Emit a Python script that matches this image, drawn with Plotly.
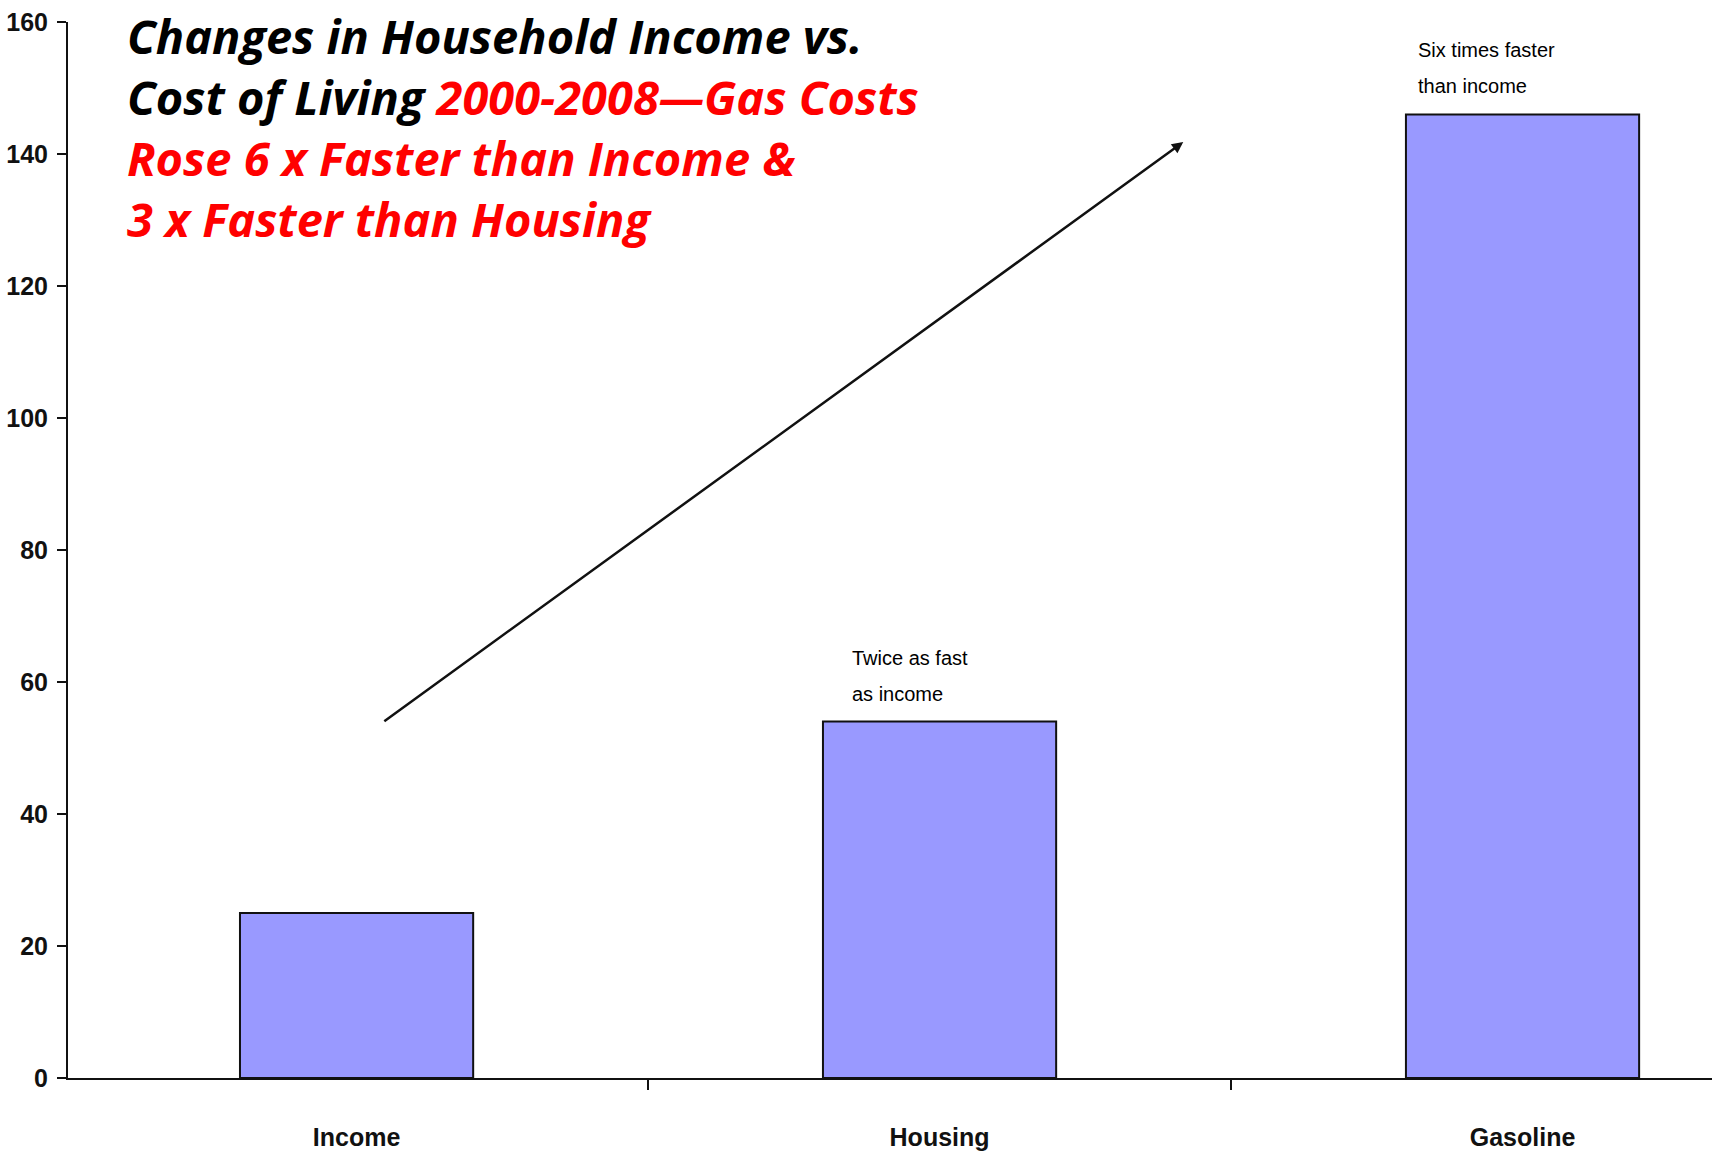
import plotly.graph_objects as go

# Percent change 2000-2008
categories = ["Income", "Housing", "Gasoline"]
values = [25, 54, 146]

y_ticks = [0, 20, 40, 60, 80, 100, 120, 140, 160]

# Callout notes above the housing and gasoline bars
note_categories = ["Housing", "Gasoline"]
note_x = [0.847, 1.818]
note_lines = [["Twice as fast", "as income"], ["Six times faster", "than income"]]

# Headline, one entry per line as (black part, red part)
title_lines = [
    ("Changes in Household Income vs.", ""),
    ("Cost of Living ", "2000-2008\u2014Gas Costs"),
    ("", "Rose 6 x Faster than Income &"),
    ("", "3 x Faster than Housing"),
]

label_font = "Liberation Sans, Arial, sans-serif"

fig = go.Figure()
fig.add_trace(go.Bar(
    x=categories,
    y=values,
    marker=dict(color="#9999FF", line=dict(color="#111111", width=2)),
    width=0.4,
    hoverinfo="x+y",
))

annotations = []

# Headline as one multi-line block
html_lines = []
for black, red in title_lines:
    html = ""
    if black:
        html += f"<span style='color:#000000'>{black}</span>"
    if red:
        html += f"<span style='color:#FF0000'>{red}</span>"
    html_lines.append(html)
annotations.append(dict(
    x=-0.3975, y=160, xref="x", yref="y",
    yshift=20.5,
    text="<b><i>" + "<br>".join(html_lines) + "</i></b>",
    showarrow=False, xanchor="left", yanchor="top", align="left",
    font=dict(family="Open Sans, sans-serif", size=47),
))

# Callout notes, two lines each, sitting above their bars
for cat, nx, lines in zip(note_categories, note_x, note_lines):
    top = values[categories.index(cat)]
    for i, line in enumerate(lines):
        annotations.append(dict(
            x=nx, y=top, xref="x", yref="y",
            text=line, showarrow=False,
            xanchor="left", yanchor="middle",
            yshift=64 - 36 * i,
            font=dict(family=label_font, size=20, color="#000000"),
        ))

# Trend arrow
annotations.append(dict(
    x=1.418, y=141.8, ax=0.045, ay=53.9,
    xref="x", yref="y", axref="x", ayref="y",
    text="", showarrow=True,
    arrowhead=2, arrowsize=0.9, arrowwidth=2.5, arrowcolor="#111111",
))

fig.update_layout(
    width=1712, height=1155, autosize=False,
    margin=dict(l=68, r=0, t=22, b=77, autoexpand=False),
    plot_bgcolor="white", paper_bgcolor="white",
    showlegend=False,
    bargap=0.6,
    annotations=annotations,
    xaxis=dict(
        type="category",
        range=[-0.495, 2.325],
        tickson="boundaries",
        ticks="outside", ticklen=10, tickwidth=2, tickcolor="#111111",
        showline=True, linecolor="#111111", linewidth=2,
        showgrid=False, zeroline=False, automargin=False,
        ticklabelstandoff=36,
        tickfont=dict(family=label_font, size=25, color="#111111", weight="bold"),
    ),
    yaxis=dict(
        range=[0, 160],
        tickmode="array", tickvals=y_ticks,
        ticks="outside", ticklen=9, tickwidth=2, tickcolor="#111111",
        showline=True, linecolor="#111111", linewidth=2,
        showgrid=False, zeroline=False, automargin=False,
        ticklabelstandoff=4,
        tickfont=dict(family=label_font, size=25, color="#111111", weight="bold"),
    ),
)

fig.write_html("out.html")
